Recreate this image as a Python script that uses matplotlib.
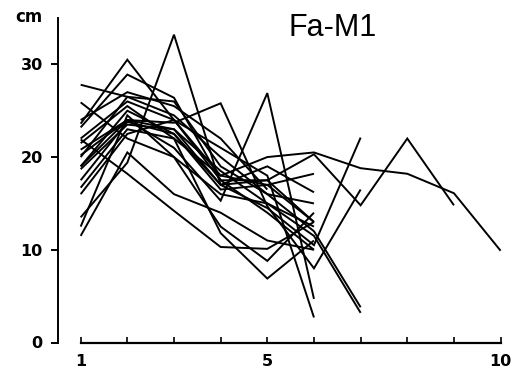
import matplotlib
matplotlib.use("Agg")
import matplotlib.pyplot as plt

# ---- data (measurement index vs cm) ----
x_ticks = [1, 2, 3, 4, 5, 6, 7, 8, 9, 10]
x_labels = ["1", "", "", "", "5", "", "", "", "", "10"]
y_ticks = [0, 10, 20, 30]
y_labels = ["0", "10", "20", "30"]
title = "Fa-M1"
unit = "cm"

s01 = [22.0, 26.0, 24.0, 18.0, 20.0, 20.5, 18.8, 18.2, 16.1, 9.9]
s02 = [19.0, 25.0, 22.5, 17.0, 17.5, 20.3, 14.8, 22.0, 14.8]
s03 = [13.5, 19.4, 33.2, 17.0, 14.5, 10.5, 22.1]
s04 = [20.2, 24.0, 21.0, 15.3, 26.9, 4.7]
s05 = [27.8, 26.5, 24.5, 20.0, 16.0, 12.0, 3.8]
s06 = [25.9, 22.0, 20.0, 16.0, 15.0, 11.5, 3.2]
s07 = [23.6, 30.5, 24.0, 21.0, 18.0, 2.7]
s08 = [23.2, 28.9, 26.4, 17.5, 17.5, 13.0]
s09 = [21.9, 18.2, 14.2, 10.3, 10.1, 13.0]
s10 = [21.5, 25.5, 22.0, 11.8, 6.9, 11.0]
s11 = [19.0, 24.0, 23.7, 25.8, 14.7, 8.0, 16.5]
s12 = [18.7, 23.5, 23.0, 17.0, 19.0, 16.2]
s13 = [16.7, 23.0, 22.0, 18.0, 17.0, 18.2]
s14 = [16.0, 22.5, 24.0, 17.5, 14.0, 10.0]
s15 = [12.5, 24.5, 20.0, 12.5, 8.8, 14.0]
s16 = [11.5, 20.5, 16.0, 14.0, 11.0, 10.0]
s17 = [20.0, 26.5, 26.0, 19.0, 16.0, 15.0]
s18 = [24.0, 27.0, 25.5, 22.0, 16.5]
s19 = [17.5, 23.8, 22.5, 16.5, 17.0, 13.0]
s20 = [20.8, 24.0, 23.0, 18.5, 15.0, 12.5]

series = [s01, s02, s03, s04, s05, s06, s07, s08, s09, s10,
          s11, s12, s13, s14, s15, s16, s17, s18, s19, s20]

W, H = 518, 378
fig = plt.figure(figsize=(W / 100, H / 100), dpi=100)
# axes placed in pixel coordinates
left_px, right_px, top_px, bottom_px = 58, 502, 18, 342.5
ax = fig.add_axes([left_px / W, (H - bottom_px) / H,
                   (right_px - left_px) / W, (bottom_px - top_px) / H])

for s in series:
    ax.plot(x_ticks[:len(s)], s, color="black", lw=1.4,
            solid_joinstyle="miter", solid_capstyle="butt")

ax.set_xlim(0.514, 10.03)
ax.set_ylim(0, 35)

for sp in ("top", "right"):
    ax.spines[sp].set_visible(False)
ax.spines["left"].set_linewidth(1.4)
ax.spines["bottom"].set_linewidth(1.6)
ax.spines["bottom"].set_bounds(1, 10)

ax.set_xticks(x_ticks)
ax.set_xticklabels(x_labels)
ax.set_yticks(y_ticks)
ax.set_yticklabels(y_labels)
ax.tick_params(axis="x", direction="in", length=4, width=1.2, pad=8,
               labelsize=11.5)
ax.tick_params(axis="y", direction="out", length=5, width=1.4, pad=6,
               labelsize=11.5)
for lab in ax.get_xticklabels() + ax.get_yticklabels():
    lab.set_fontweight("bold")
    lab.set_family("DejaVu Sans")

fig.text(29 / W, 1 - 17 / H, unit, ha="center", va="center",
         fontsize=12, fontweight="semibold", family="DejaVu Sans")
fig.text(333 / W, 1 - 28 / H, title, ha="center", va="center",
         fontsize=22, family="Liberation Sans")

fig.savefig("out.png", dpi=100)
